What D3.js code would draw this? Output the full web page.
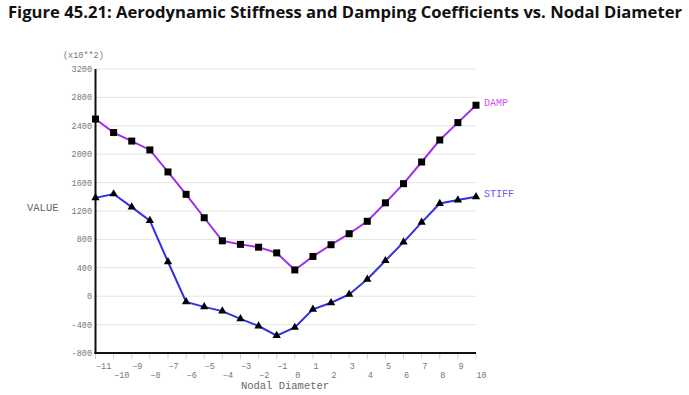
<!DOCTYPE html>
<html><head><meta charset="utf-8">
<script src="https://cdn.jsdelivr.net/npm/d3@7"></script>
<style>html,body{margin:0;padding:0;background:#fff;}</style>
</head><body>
<svg id="c" width="689" height="395"></svg>
<script>
const nodalDiameter = [-11,-10,-9,-8,-7,-6,-5,-4,-3,-2,-1,0,1,2,3,4,5,6,7,8,9,10];
const dampValues = [2495,2305,2185,2060,1750,1435,1105,780,730,690,610,370,560,725,880,1055,1315,1585,1890,2200,2445,2690];
const stiffValues = [1385,1440,1255,1065,485,-80,-150,-210,-320,-420,-555,-440,-185,-92,25,238,500,762,1040,1305,1355,1400];
const yTicks = [-800,-400,0,400,800,1200,1600,2000,2400,2800,3200];

const svg = d3.select("#c");
const x = d3.scaleLinear().domain([-11,10]).range([95.5,476]);
const y = d3.scaleLinear().domain([-800,3200]).range([353,69]);
const mono = "'Liberation Mono', 'DejaVu Sans Mono', monospace";

svg.append("text").attr("x",8).attr("y",18)
  .attr("font-family","'Open Sans','Noto Sans',sans-serif").attr("font-weight","bold")
  .attr("font-size",16.5).attr("textLength",674).attr("lengthAdjust","spacingAndGlyphs")
  .attr("fill","#111")
  .text("Figure 45.21: Aerodynamic Stiffness and Damping Coefficients vs. Nodal Diameter");

// gridlines
svg.append("g").selectAll("line").data(yTicks.filter(d=>d>-800)).join("line")
  .attr("x1",x(-11)).attr("x2",x(10)).attr("y1",d=>y(d)).attr("y2",d=>y(d))
  .attr("stroke","#e4e4e4").attr("stroke-width",1);

// y tick labels
svg.append("g").selectAll("text").data(yTicks).join("text")
  .attr("x",92).attr("y",d=>y(d)).attr("dy","0.35em").attr("text-anchor","end")
  .attr("font-family",mono).attr("font-size",8.5).attr("fill","#777").text(d=>d);

svg.append("text").attr("x",63).attr("y",58).attr("font-family",mono).attr("font-size",8.5)
  .attr("fill","#777").text("(x10**2)");
svg.append("text").attr("x",27).attr("y",207).attr("dy","0.35em").attr("font-family",mono)
  .attr("font-size",10.5).attr("fill","#666").text("VALUE");

// x minor ticks
svg.append("g").selectAll("line").data(nodalDiameter).join("line")
  .attr("x1",d=>x(d)).attr("x2",d=>x(d)).attr("y1",353).attr("y2",359)
  .attr("stroke","#d0d0d0").attr("stroke-width",1);

// x tick labels (staggered)
svg.append("g").selectAll("text").data(nodalDiameter).join("text")
  .attr("x",d=>x(d)+0.5).attr("y",d=>Math.abs(d)%2===1?366:375).attr("dy","0.35em")
  .attr("font-family",mono).attr("font-size",8.5).attr("fill","#777")
  .text(d=>d<0?"\u2212"+Math.abs(d):d);

svg.append("text").attr("x",285).attr("y",385).attr("dy","0.35em").attr("text-anchor","middle")
  .attr("font-family",mono).attr("font-size",10.5).attr("fill","#666").text("Nodal Diameter");

// axes lines
svg.append("line").attr("x1",x(-11)).attr("x2",x(-11)).attr("y1",y(3200)).attr("y2",y(-800)+1)
  .attr("stroke","#111").attr("stroke-width",2);
svg.append("line").attr("x1",x(-11)-1).attr("x2",x(10)).attr("y1",y(-800)).attr("y2",y(-800))
  .attr("stroke","#111").attr("stroke-width",2);

const line = d3.line().x((d,i)=>x(nodalDiameter[i])).y(d=>y(d));
svg.append("path").attr("d",line(dampValues)).attr("fill","none").attr("stroke","#a030e8").attr("stroke-width",2);
svg.append("path").attr("d",line(stiffValues)).attr("fill","none").attr("stroke","#3030e8").attr("stroke-width",2);

svg.append("g").selectAll("rect").data(dampValues).join("rect")
  .attr("x",(d,i)=>x(nodalDiameter[i])-3.5).attr("y",d=>y(d)-3.5).attr("width",7).attr("height",7).attr("fill","#000");
const tri = d3.symbol().type(d3.symbolTriangle).size(30);
svg.append("g").selectAll("path").data(stiffValues).join("path")
  .attr("d",tri).attr("transform",(d,i)=>`translate(${x(nodalDiameter[i])},${y(d)})`).attr("fill","#000");

svg.append("text").attr("x",484).attr("y",102).attr("dy","0.35em").attr("font-family",mono)
  .attr("font-size",10).attr("fill","#cc55ee").text("DAMP");
svg.append("text").attr("x",484).attr("y",193).attr("dy","0.35em").attr("font-family",mono)
  .attr("font-size",10).attr("fill","#6060f0").text("STIFF");
</script>
</body></html>
